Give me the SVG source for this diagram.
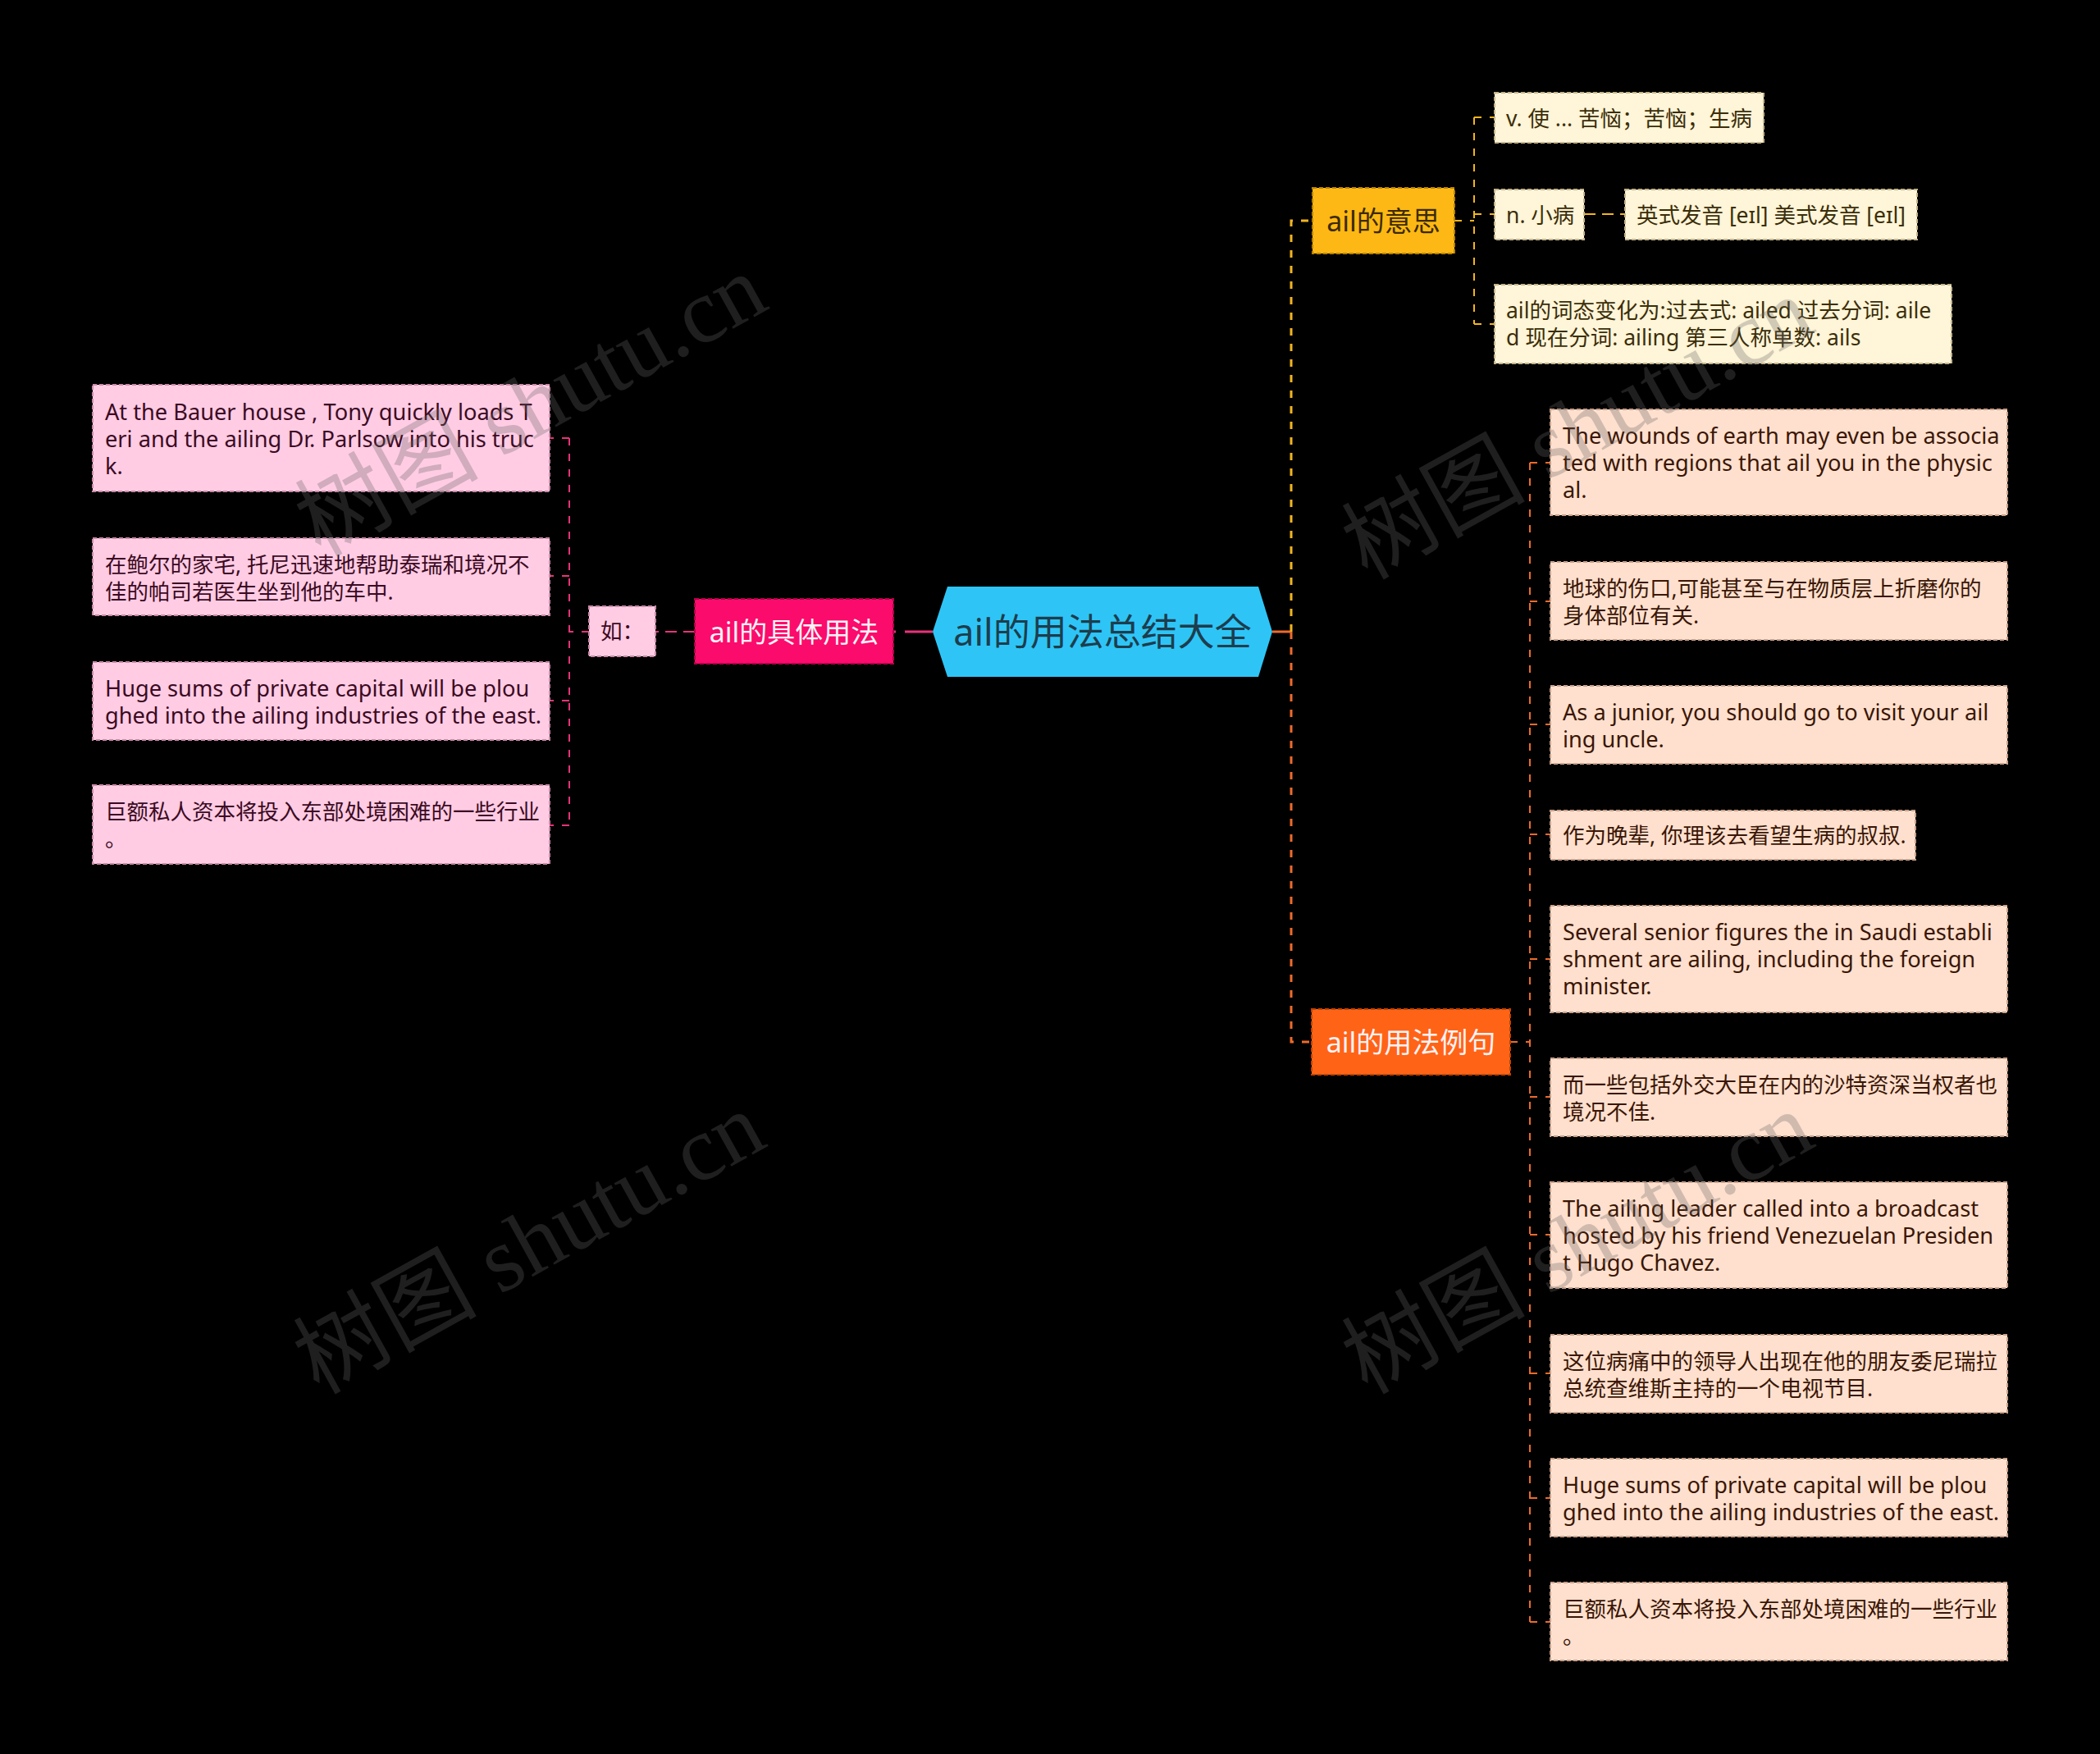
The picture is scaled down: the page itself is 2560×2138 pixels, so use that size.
<svg xmlns="http://www.w3.org/2000/svg" width="2560" height="2138" viewBox="0 0 2560 2138">
<style>
text{font-family:'Noto Sans','Noto Sans CJK SC',sans-serif}
.bx{stroke-width:2;stroke-dasharray:5 3}
.b1p{fill:#FB0B6B;stroke:#b3004a}
.b1y{fill:#FDB815;stroke:#b98300}
.b1o{fill:#FF6316;stroke:#bf4300}
.lp{fill:#FFCCE4;stroke:#c98aa6}
.ly{fill:#FFF5D8;stroke:#c4b48a}
.lo{fill:#FFE0CE;stroke:#c9a08a}
.t1{font-size:34px;text-anchor:middle}
.tw{fill:#FFF2F6}
.td{fill:#3B2A00}
.tl{font-size:27.2px}
.cj{font-size:26.5px}
.tp{fill:#3B0A22}
.ty{fill:#3B2E0A}
.to{fill:#3A1606}
.c{fill:none;stroke-dasharray:9 10}
.cp{stroke:#E8317A}
.cy{stroke:#F2B51E}
.co{stroke:#EE6A2A}
.w3{stroke-width:3}
.w2{stroke-width:2}
.wm{font-family:'Liberation Serif','Noto Sans CJK SC',serif;font-size:112px;fill:#666;opacity:0.3;text-anchor:middle;dominant-baseline:central}
</style>
<rect x="0" y="0" width="2560" height="2138" fill="#000"/>

<g id="connectors">
  <path class="c cp w3" style="stroke-dasharray:34 11" d="M1137,770 H1089"/>
  <path class="c cp w2" style="stroke-dasharray:14 8" d="M847,770 H799"/>
  <path class="c cp w2" d="M718,770 H694 M694,534 V1006 M694,534 H670 M694,702 H670 M694,854 H670 M694,1006 H670"/>
  <path fill="none" class="co w3" d="M1551,770 H1575"/>
  <path class="c cy w3" d="M1574,770 V269 H1600"/>
  <path class="c co w3" d="M1574,770 V1270 H1599"/>
  <path class="c cy w2" d="M1773,269 H1797 M1797,143 V395 M1797,143 H1822 M1797,261 H1822 M1797,395 H1822"/>
  <path class="c cy w2" style="stroke-dasharray:14 8" d="M1931,261 H1981"/>
  <path class="c co w2" d="M1841,1270 H1865 M1865,564 V1977 M1865,564 H1890 M1865,733 H1890 M1865,883 H1890 M1865,1017 H1890 M1865,1169 H1890 M1865,1337 H1890 M1865,1505 H1890 M1865,1674 H1890 M1865,1826 H1890 M1865,1977 H1890"/>
</g>

<g id="center">
  <polygon points="1137,770 1155,715 1534,715 1551,770 1534,825 1155,825" fill="#2EC5F6"/>
  <text x="1344" y="787" font-size="45" fill="#1D3D4D" text-anchor="middle">ail的用法总结大全</text>
</g>

<g id="usage">
  <rect class="bx b1p" x="847" y="730" width="242" height="79"/>
  <text class="t1 tw" x="968" y="783">ail的具体用法</text>
</g>
<g id="ru">
  <rect class="bx lp" x="718" y="739" width="81" height="61"/>
  <text class="tl cj tp" x="732" y="779">如：</text>
</g>
<g id="p1">
  <rect class="bx lp" x="113" y="469" width="557" height="130"/>
  <text class="tl tp" x="128" y="512"><tspan x="128">At the Bauer house , Tony quickly loads T</tspan><tspan x="128" dy="33">eri and the ailing Dr. Parlsow into his truc</tspan><tspan x="128" dy="33">k.</tspan></text>
</g>
<g id="p2">
  <rect class="bx lp" x="113" y="656" width="557" height="94"/>
  <text class="tl cj tp" x="128" y="698"><tspan x="128">在鲍尔的家宅, 托尼迅速地帮助泰瑞和境况不</tspan><tspan x="128" dy="33">佳的帕司若医生坐到他的车中.</tspan></text>
</g>
<g id="p3">
  <rect class="bx lp" x="113" y="807" width="557" height="95"/>
  <text class="tl tp" x="128" y="849"><tspan x="128">Huge sums of private capital will be plou</tspan><tspan x="128" dy="33">ghed into the ailing industries of the east.</tspan></text>
</g>
<g id="p4">
  <rect class="bx lp" x="113" y="957" width="557" height="96"/>
  <text class="tl cj tp" x="128" y="999"><tspan x="128">巨额私人资本将投入东部处境困难的一些行业</tspan><tspan x="128" dy="33">。</tspan></text>
</g>

<g id="meaning">
  <rect class="bx b1y" x="1600" y="229" width="173" height="80"/>
  <text class="t1 td" x="1686.5" y="282">ail的意思</text>
</g>
<g id="y1">
  <rect class="bx ly" x="1822" y="113" width="328" height="61"/>
  <text class="tl cj ty" x="1836" y="154">v. 使 ... 苦恼；苦恼；生病</text>
</g>
<g id="y2">
  <rect class="bx ly" x="1822" y="231" width="109" height="61"/>
  <text class="tl cj ty" x="1836" y="272">n. 小病</text>
</g>
<g id="y3">
  <rect class="bx ly" x="1981" y="231" width="356" height="61"/>
  <text class="tl cj ty" x="1995" y="272">英式发音 [eɪl] 美式发音 [eɪl]</text>
</g>
<g id="y4">
  <rect class="bx ly" x="1822" y="347" width="557" height="96"/>
  <text class="tl cj ty" x="1836" y="388"><tspan x="1836">ail的词态变化为:过去式: ailed 过去分词: aile</tspan><tspan x="1836" dy="33">d 现在分词: ailing 第三人称单数: ails</tspan></text>
</g>

<g id="examples">
  <rect class="bx b1o" x="1599" y="1230" width="242" height="80"/>
  <text class="t1 tw" x="1720" y="1283">ail的用法例句</text>
</g>
<g id="o1">
  <rect class="bx lo" x="1890" y="499" width="557" height="129"/>
  <text class="tl to" x="1905" y="541"><tspan x="1905">The wounds of earth may even be associa</tspan><tspan x="1905" dy="33">ted with regions that ail you in the physic</tspan><tspan x="1905" dy="33">al.</tspan></text>
</g>
<g id="o2">
  <rect class="bx lo" x="1890" y="685" width="557" height="95"/>
  <text class="tl cj to" x="1905" y="727"><tspan x="1905">地球的伤口,可能甚至与在物质层上折磨你的</tspan><tspan x="1905" dy="33">身体部位有关.</tspan></text>
</g>
<g id="o3">
  <rect class="bx lo" x="1890" y="836" width="557" height="95"/>
  <text class="tl to" x="1905" y="878"><tspan x="1905">As a junior, you should go to visit your ail</tspan><tspan x="1905" dy="33">ing uncle.</tspan></text>
</g>
<g id="o4">
  <rect class="bx lo" x="1890" y="988" width="445" height="60"/>
  <text class="tl cj to" x="1905" y="1028">作为晚辈, 你理该去看望生病的叔叔.</text>
</g>
<g id="o5">
  <rect class="bx lo" x="1890" y="1104" width="557" height="130"/>
  <text class="tl to" x="1905" y="1146"><tspan x="1905">Several senior figures the in Saudi establi</tspan><tspan x="1905" dy="33">shment are ailing, including the foreign</tspan><tspan x="1905" dy="33">minister.</tspan></text>
</g>
<g id="o6">
  <rect class="bx lo" x="1890" y="1290" width="557" height="95"/>
  <text class="tl cj to" x="1905" y="1332"><tspan x="1905">而一些包括外交大臣在内的沙特资深当权者也</tspan><tspan x="1905" dy="33">境况不佳.</tspan></text>
</g>
<g id="o7">
  <rect class="bx lo" x="1890" y="1441" width="557" height="129"/>
  <text class="tl to" x="1905" y="1483"><tspan x="1905">The ailing leader called into a broadcast</tspan><tspan x="1905" dy="33">hosted by his friend Venezuelan Presiden</tspan><tspan x="1905" dy="33">t Hugo Chavez.</tspan></text>
</g>
<g id="o8">
  <rect class="bx lo" x="1890" y="1627" width="557" height="95"/>
  <text class="tl cj to" x="1905" y="1669"><tspan x="1905">这位病痛中的领导人出现在他的朋友委尼瑞拉</tspan><tspan x="1905" dy="33">总统查维斯主持的一个电视节目.</tspan></text>
</g>
<g id="o9">
  <rect class="bx lo" x="1890" y="1778" width="557" height="95"/>
  <text class="tl to" x="1905" y="1820"><tspan x="1905">Huge sums of private capital will be plou</tspan><tspan x="1905" dy="33">ghed into the ailing industries of the east.</tspan></text>
</g>
<g id="o10">
  <rect class="bx lo" x="1890" y="1929" width="557" height="95"/>
  <text class="tl cj to" x="1905" y="1971"><tspan x="1905">巨额私人资本将投入东部处境困难的一些行业</tspan><tspan x="1905" dy="33">。</tspan></text>
</g>

<g id="watermarks">
  <text class="wm" transform="translate(647,494) rotate(-29)">树图 shutu.cn</text>
  <text class="wm" transform="translate(645,1515) rotate(-29)">树图 shutu.cn</text>
  <text class="wm" transform="translate(1923,522) rotate(-29)">树图 shutu.cn</text>
  <text class="wm" transform="translate(1923,1515) rotate(-29)">树图 shutu.cn</text>
</g>
</svg>
